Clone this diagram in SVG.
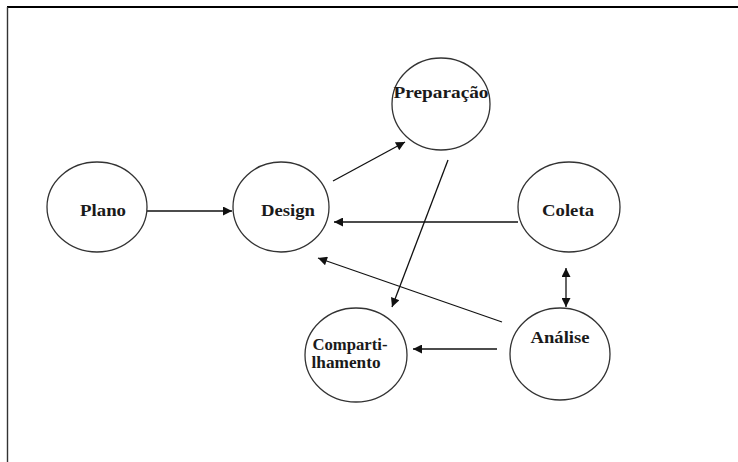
<svg xmlns="http://www.w3.org/2000/svg" width="738" height="462" viewBox="0 0 738 462">
<defs>
<marker id="ah" viewBox="0 0 10 10" refX="10" refY="5" markerWidth="12" markerHeight="9" markerUnits="userSpaceOnUse" orient="auto-start-reverse">
<path d="M0,0 L10,5 L0,10 z" fill="#111"/>
</marker>
<style>
.n ellipse{fill:#fff;stroke:#333;stroke-width:1.3}
.n text{font-family:"Liberation Serif","Times New Roman",serif;font-weight:bold;font-size:17px;fill:#1a1a1a;text-anchor:middle}
.c line{stroke:#111;stroke-width:1.3;marker-end:url(#ah)}
</style>
</defs>
<rect width="738" height="462" fill="#fff"/>
<g id="frame">
<line x1="7" y1="7" x2="738" y2="7" stroke="#000" stroke-width="2"/>
<line x1="7.5" y1="7" x2="7.5" y2="462" stroke="#333" stroke-width="1.4"/>
</g>
<g class="c" id="connectors">
<line x1="147" y1="211" x2="232" y2="211"/>
<line x1="333" y1="181" x2="405" y2="142"/>
<line x1="448" y1="160" x2="392" y2="307"/>
<line x1="518" y1="222" x2="334" y2="222"/>
<line x1="502" y1="322" x2="318" y2="258"/>
<line x1="497" y1="349" x2="413" y2="349"/>
<line x1="566" y1="287" x2="566" y2="268"/>
<line x1="566" y1="287" x2="566" y2="307"/>
</g>
<g class="n" id="plano"><ellipse cx="97" cy="207" rx="50" ry="45"/><text x="103" y="216" textLength="46" lengthAdjust="spacingAndGlyphs">Plano</text></g>
<g class="n" id="design"><ellipse cx="281" cy="207" rx="48" ry="45"/><text x="288" y="216" textLength="54" lengthAdjust="spacingAndGlyphs">Design</text></g>
<g class="n" id="preparacao"><ellipse cx="441" cy="104" rx="49" ry="46"/><text x="441" y="98" textLength="95" lengthAdjust="spacingAndGlyphs">Preparação</text></g>
<g class="n" id="coleta"><ellipse cx="569" cy="207" rx="51" ry="45"/><text x="568" y="216" textLength="52" lengthAdjust="spacingAndGlyphs">Coleta</text></g>
<g class="n" id="analise"><ellipse cx="560" cy="354" rx="50" ry="46"/><text x="560" y="343" textLength="59" lengthAdjust="spacingAndGlyphs">Análise</text></g>
<g class="n" id="compartilhamento"><ellipse cx="356" cy="355" rx="51" ry="47"/><text x="350" y="350" textLength="75" lengthAdjust="spacingAndGlyphs">Comparti-</text><text x="346" y="368" textLength="69" lengthAdjust="spacingAndGlyphs">lhamento</text></g>
</svg>
